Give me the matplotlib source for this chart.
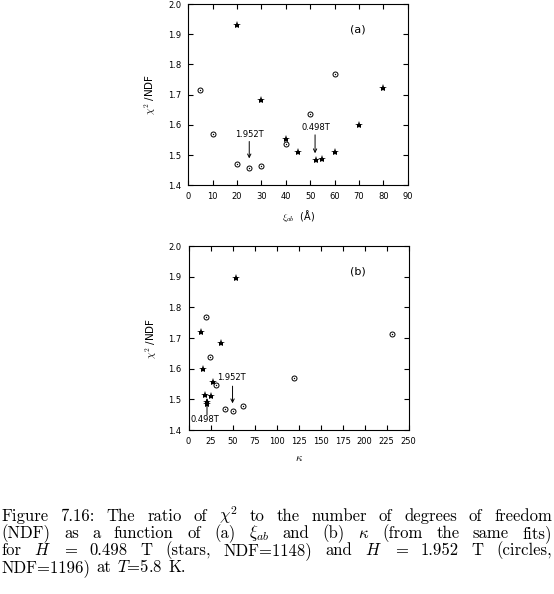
import matplotlib
matplotlib.use('Agg')
import matplotlib.pyplot as plt
import numpy as np

plt.rcParams['mathtext.fontset'] = 'cm'
plt.rcParams['axes.unicode_minus'] = False

# panel (a): chi2/NDF vs xi_ab
xi_stars = [20, 30, 40, 45, 52.4, 55, 60, 70, 80]
chi_stars_a = [1.932, 1.682, 1.552, 1.510, 1.483, 1.487, 1.511, 1.599, 1.721]
xi_circles = [5, 10, 20, 25, 30, 40, 50, 60]
chi_circles_a = [1.715, 1.571, 1.472, 1.456, 1.464, 1.538, 1.637, 1.767]

# panel (b): chi2/NDF vs kappa
kappa_stars = [54, 36.8, 28, 25, 21, 20.5, 18.3, 16, 14]
chi_stars_b = [1.895, 1.684, 1.556, 1.512, 1.485, 1.490, 1.513, 1.600, 1.721]
kappa_circles = [231, 120, 62, 50, 41.5, 31, 24.7, 20.2]
chi_circles_b = [1.714, 1.570, 1.478, 1.463, 1.469, 1.546, 1.638, 1.768]

fig = plt.figure(figsize=(5.54, 5.94), dpi=100)
W, H = 554.0, 594.0

def make_axes(left, top, right, bottom):
    return fig.add_axes([left / W, 1 - bottom / H, (right - left) / W, (bottom - top) / H])

ax1 = make_axes(188.3, 4, 407.7, 185.3)
ax2 = make_axes(188.5, 246, 408.7, 430)

def style(ax):
    ax.tick_params(direction='in', length=3.5, width=0.8, top=True, right=True,
                   labelsize=6, pad=5)
    for s in ax.spines.values():
        s.set_linewidth(0.8)
    ax.set_ylim(1.4, 2.0)
    ax.set_yticks(np.arange(1.4, 2.01, 0.1))
    ax.set_yticklabels(['1.4', '1.5', '1.6', '1.7', '1.8', '1.9', '2.0'])
    ax.set_ylabel(r'$\chi^2$ /NDF', fontsize=7.5, labelpad=7)

def draw(ax, xs, ys, xc, yc):
    ax.plot(xs, ys, ls='none', marker='*', ms=6, color='black', mew=0)
    ax.plot(xc, yc, ls='none', marker='o', ms=3.6, mfc='white', mec='black', mew=0.7)
    ax.plot(xc, yc, ls='none', marker='o', ms=1.0, color='black', mew=0)

def arrow(ax, label, tx, ty, x, y0, y1):
    ax.text(tx, ty, label, fontsize=6, ha='center', va='center')
    ax.annotate('', xy=(x, y1), xytext=(x, y0),
                arrowprops=dict(arrowstyle='->', lw=0.7, color='black',
                                mutation_scale=6, shrinkA=0, shrinkB=0))

# (a)
style(ax1)
draw(ax1, xi_stars, chi_stars_a, xi_circles, chi_circles_a)
ax1.set_xlim(0, 90)
ax1.set_xticks(range(0, 91, 10))
ax1.set_xlabel(r'$\xi_{ab}$  (Å)', fontsize=7, labelpad=5)
ax1.text(69.5, 1.916, '(a)', fontsize=8, ha='center', va='center')
arrow(ax1, '1.952T', 25, 1.569, 25, 1.545, 1.489)
arrow(ax1, '0.498T', 52.3, 1.591, 52, 1.567, 1.506)

# (b)
style(ax2)
draw(ax2, kappa_stars, chi_stars_b, kappa_circles, chi_circles_b)
ax2.set_xlim(0, 250)
ax2.set_xticks(range(0, 251, 25))
ax2.set_xlabel(r'$\kappa$', fontsize=8, labelpad=5)
ax2.text(192, 1.916, '(b)', fontsize=8, ha='center', va='center')
arrow(ax2, '1.952T', 48.4, 1.570, 50, 1.543, 1.487)
arrow(ax2, '0.498T', 19, 1.433, 21, 1.449, 1.503)

# caption, justified line by line
lines = [
    ['Figure', '7.16:', 'The', 'ratio', 'of', r'$\chi^2$', 'to', 'the', 'number', 'of',
     'degrees', 'of', 'freedom'],
    ['(NDF)', 'as', 'a', 'function', 'of', '(a)', r'$\xi_{ab}$', 'and', '(b)', r'$\kappa$',
     '(from', 'the', 'same', 'fits)'],
    ['for', r'$H$', '=', '0.498', 'T', '(stars,', 'NDF=1148)', 'and', r'$H$', '=', '1.952',
     'T', '(circles,'],
    ['NDF=1196)', 'at', r'$T$=5.8', 'K.'],
]
baselines = [521, 538, 555, 572]
x_left, x_right = 1.5, 552.0
cap_size = 12

fig.canvas.draw()
r = fig.canvas.get_renderer()
for words, yb in zip(lines, baselines):
    texts = [fig.text(0, 1 - yb / H, w, fontsize=cap_size, family='cmr10', va='baseline')
             for w in words]
    widths = [t.get_window_extent(r).width for t in texts]
    if words is lines[-1]:
        gap = 6
    else:
        gap = (x_right - x_left - sum(widths)) / (len(words) - 1)
    x = x_left
    for t, w in zip(texts, widths):
        t.set_x(x / W)
        x += w + gap

fig.savefig('out.png', dpi=100)
